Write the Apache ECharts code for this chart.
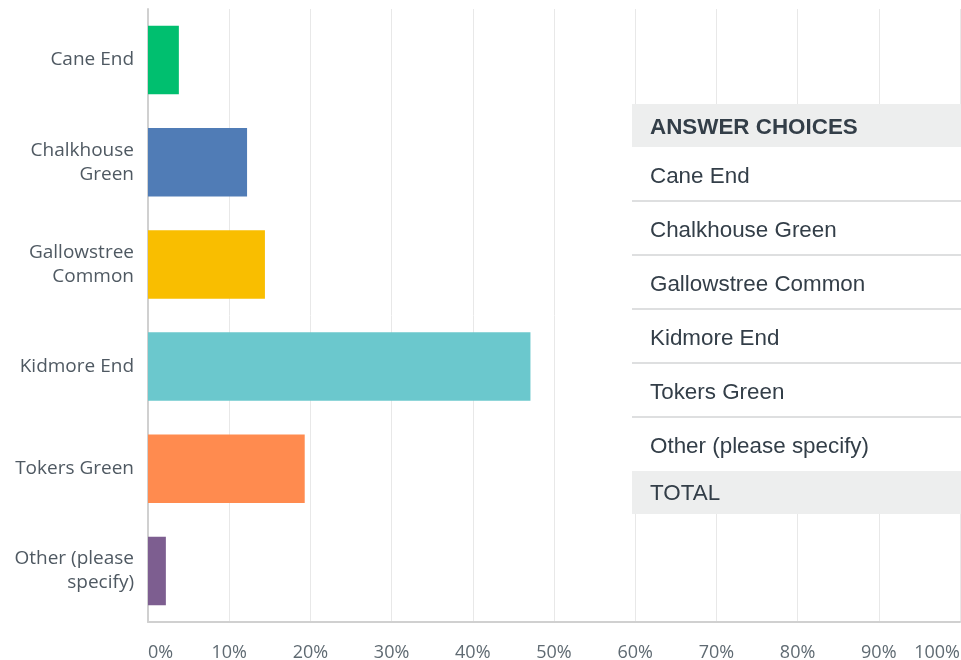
<!DOCTYPE html>
<html>
<head>
<meta charset="utf-8">
<script src="https://cdn.jsdelivr.net/npm/echarts@6/dist/echarts.min.js"></script>
<style>
html,body{margin:0;padding:0;background:#fff;}
#chart{width:961px;height:660px;}
</style>
</head>
<body>
<div id="chart"></div>
<script>
const categories = ['Cane End', 'Chalkhouse\nGreen', 'Gallowstree\nCommon', 'Kidmore End', 'Tokers Green', 'Other (please\nspecify)'];
const values = [3.8, 12.2, 14.4, 47.1, 19.3, 2.2];
const barColors = ['#00bf6f', '#507cb6', '#f9be00', '#6bc8cd', '#ff8b4f', '#7d5e90'];
const tableHeader = 'ANSWER CHOICES';
const tableRows = ['Cane End', 'Chalkhouse Green', 'Gallowstree Common', 'Kidmore End', 'Tokers Green', 'Other (please specify)'];
const tableTotal = 'TOTAL';

const chart = echarts.init(document.getElementById('chart'), null, {renderer: 'canvas'});

// table overlay geometry
const tX = 632, tW = 329, tTop = 104, headH = 43, rowH = 54, totH = 43;
const tableFont = '"Liberation Sans", Arial, sans-serif';
const tableColor = '#333e48';
const g = [];
const rowsTop = tTop + headH;
const totTop = rowsTop + rowH * tableRows.length;
g.push({type:'rect', shape:{x:tX, y:tTop, width:tW, height:totTop + totH - tTop}, style:{fill:'#ffffff'}, z:100});
g.push({type:'rect', shape:{x:tX, y:tTop, width:tW, height:headH}, style:{fill:'#edeeee'}, z:101});
g.push({type:'text', x:tX + 18, y:tTop + headH/2 + 2, style:{text:tableHeader, font:'bold 22.4px ' + tableFont, fill:tableColor, textVerticalAlign:'middle', textAlign:'left'}, z:102});
tableRows.forEach((r, i) => {
  const y0 = rowsTop + i * rowH;
  g.push({type:'text', x:tX + 18, y:y0 + rowH/2 + 3, style:{text:r, font:'22.4px ' + tableFont, fill:tableColor, textVerticalAlign:'middle', textAlign:'left'}, z:102});
  if (i < tableRows.length - 1) {
    g.push({type:'line', shape:{x1:tX, y1:y0 + rowH, x2:tX + tW, y2:y0 + rowH}, style:{stroke:'#d3d5d6', lineWidth:1.5}, z:102});
  }
});
g.push({type:'rect', shape:{x:tX, y:totTop, width:tW, height:totH}, style:{fill:'#edeeee'}, z:101});
g.push({type:'text', x:tX + 18, y:totTop + totH/2 + 1, style:{text:tableTotal, font:'22.4px ' + tableFont, fill:tableColor, textVerticalAlign:'middle', textAlign:'left'}, z:102});

chart.setOption({
  animation: false,
  grid: {left: 148, right: 1, top: 9, bottom: 38, outerBoundsMode: 'none'},
  xAxis: {
    type: 'value', min: 0, max: 100, interval: 10,
    axisLine: {show: true, lineStyle: {color: '#d0d0d0', width: 2}},
    axisTick: {show: false},
    splitLine: {show: true, lineStyle: {color: '#e8e8e8', width: 1}},
    axisLabel: {
      formatter: '{value}%', margin: 22, color: '#5f6a72',
      fontFamily: '"Open Sans", sans-serif', fontSize: 18,
      alignMinLabel: 'left', alignMaxLabel: 'right'
    }
  },
  yAxis: {
    type: 'category', data: categories, inverse: true,
    axisLine: {show: true, lineStyle: {color: '#d0d0d0', width: 2}},
    axisTick: {show: false},
    axisLabel: {
      margin: 14, color: '#4f5962', fontFamily: '"Open Sans", sans-serif',
      fontSize: 19, lineHeight: 24, align: 'right'
    }
  },
  series: [{
    type: 'bar',
    data: values.map((v, i) => ({value: v, itemStyle: {color: barColors[i]}})),
    barCategoryGap: '33%'
  }],
  graphic: g
});
</script>
</body>
</html>
